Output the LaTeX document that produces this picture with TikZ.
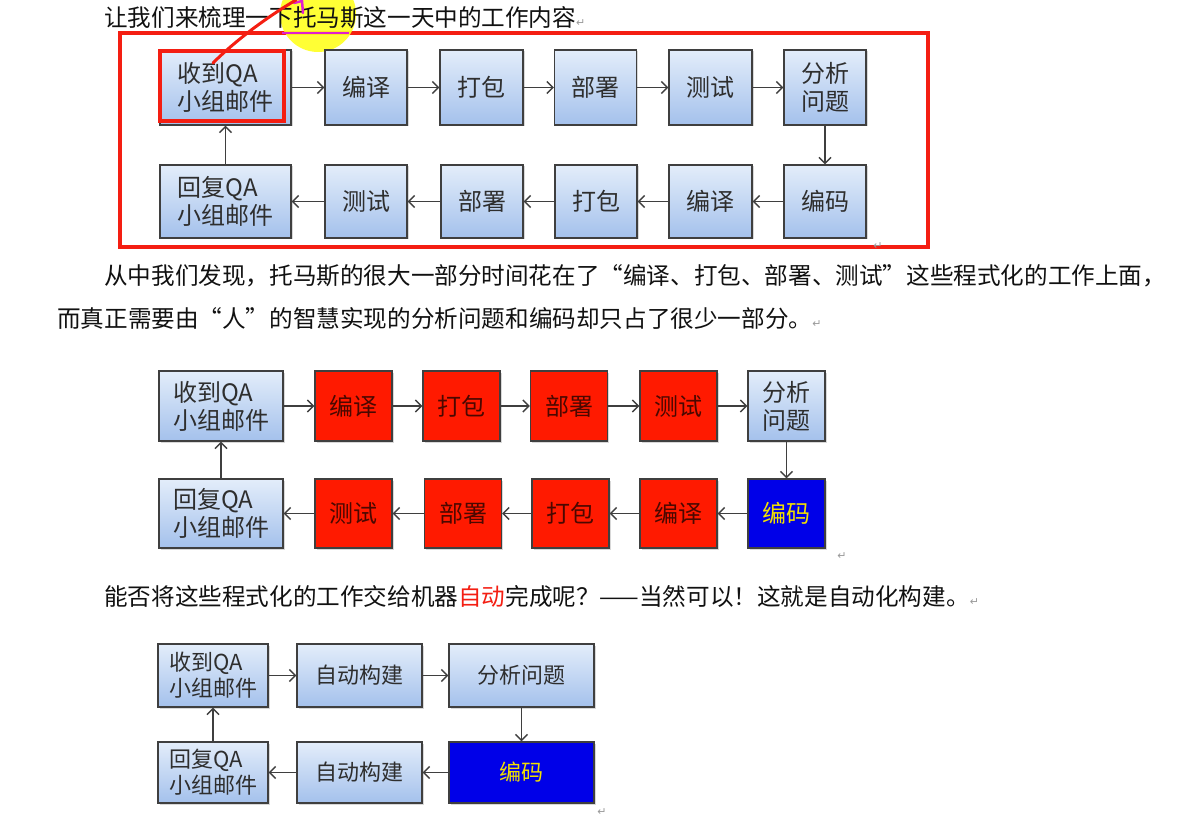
\documentclass[tikz,border=0pt]{standalone}
\usepackage{fontspec}
\usetikzlibrary{arrows.meta,shadows}
\newfontfamily\cjk{Noto Sans CJK SC}
\newfontfamily\dejavu{DejaVu Sans}
\definecolor{boxtop}{HTML}{E3EDFA}
\definecolor{boxbot}{HTML}{A4C1EC}
\definecolor{edge}{HTML}{3F3F3F}
\definecolor{boxtxt}{HTML}{2E2E2E}
\definecolor{hired}{HTML}{FF1A00}
\definecolor{hitxt}{HTML}{4A0800}
\definecolor{codeblue}{HTML}{0000E8}
\definecolor{codetxt}{HTML}{F2E000}
\definecolor{annored}{HTML}{F41E12}
\definecolor{annopink}{HTML}{E020D0}
\definecolor{hlyellow}{HTML}{FFFF20}
\definecolor{retgray}{HTML}{9A9A9A}
\definecolor{bodytxt}{HTML}{111111}
\newcommand{\retmark}{{\dejavu\fontsize{11}{11}\selectfont\color{retgray}↵}}
\begin{document}
\begin{tikzpicture}[x=1pt,y=-1pt,
  sz/.style 2 args={minimum width=#1pt,minimum height=#2pt},
  box/.style={draw=edge,line width=1.2pt,top color=boxtop,bottom color=boxbot,text=boxtxt,inner sep=0pt,align=left,
    font=\cjk\fontsize{24}{28}\selectfont,
    drop shadow={shadow xshift=1.5pt,shadow yshift=-1.5pt,opacity=0.3}},
  smallbox/.style={box,font=\cjk\fontsize{22}{26}\selectfont},
  redbox/.style={draw=edge,line width=1.2pt,fill=hired,text=hitxt,inner sep=0pt,
    font=\cjk\fontsize{24}{28}\selectfont,
    drop shadow={shadow xshift=1.5pt,shadow yshift=-1.5pt,opacity=0.3}},
  bluebox/.style={draw=edge,line width=1.2pt,fill=codeblue,text=codetxt,inner sep=0pt,
    font=\cjk\fontsize{24}{28}\selectfont,
    drop shadow={shadow xshift=1.5pt,shadow yshift=-1.5pt,opacity=0.3}},
  flow/.style={draw=edge,line width=1.5pt,-{Straight Barb[length=6pt,width=12pt]}},
  txt/.style={inner sep=0pt,text=bodytxt,font=\cjk\fontsize{23.6}{28}\selectfont},
  ret/.style={inner sep=0pt,font=\dejavu\fontsize{11}{11}\selectfont,text=retgray},
  annobox/.style={draw=annored,line width=4pt}
]
\useasboundingbox (0,0) rectangle (1181,826);
\fill[white] (0,0) rectangle (1181,826);

% ---------- annotation frame and highlight ----------
\draw[annobox] (120,33) rectangle (928,247);
\fill[hlyellow,opacity=0.9] (318,14) circle[radius=38];

% ---------- texts ----------
\node[txt,anchor=base west] (h1) at (104,27) {让我们来梳理一下托马斯这一天中的工作内容\retmark};
\node[txt,anchor=base west] (p1) at (104,285) {从中我们发现，托马斯的很大一部分时间花在了“编译、打包、部署、测试”这些程式化的工作上面，};
\node[txt,anchor=base west] (p2) at (57,328) {而真正需要由“人”的智慧实现的分析问题和编码却只占了很少一部分。\retmark};
\node[txt,anchor=base west] (p3) at (104,605) {能否将这些程式化的工作交给机器\textcolor{annored}{自动}完成呢？——当然可以！这就是自动化构建。\retmark};

% ---------- diagram 1 ----------
\node[box,sz={131}{75}] (a1) at (225.5,87.5) {收到QA\\小组邮件};
\node[box,sz={82}{75}] (a2) at (366,87.5) {编译};
\node[box,sz={83}{75}] (a3) at (481.5,87.5) {打包};
\node[box,sz={82}{75}] (a4) at (595.5,87.5) {部署};
\node[box,sz={83}{75}] (a5) at (710.5,87.5) {测试};
\node[box,sz={82}{75}] (a6) at (825,87.5) {分析\\问题};
\node[box,sz={131}{73}] (b1) at (225.5,201.5) {回复QA\\小组邮件};
\node[box,sz={82}{73}] (b2) at (366,201.5) {测试};
\node[box,sz={82}{73}] (b3) at (482,201.5) {部署};
\node[box,sz={82}{73}] (b4) at (596,201.5) {打包};
\node[box,sz={83}{73}] (b5) at (710.5,201.5) {编译};
\node[box,sz={82}{73}] (b6) at (825,201.5) {编码};
\draw[flow] (a1) -- (a2);
\draw[flow] (a2) -- (a3);
\draw[flow] (a3) -- (a4);
\draw[flow] (a4) -- (a5);
\draw[flow] (a5) -- (a6);
\draw[flow] (a6) -- (b6);
\draw[flow] (b6) -- (b5);
\draw[flow] (b5) -- (b4);
\draw[flow] (b4) -- (b3);
\draw[flow] (b3) -- (b2);
\draw[flow] (b2) -- (b1);
\draw[flow] (b1) -- (a1);
\node[ret] (r1) at (878,246) {↵};

% ---------- diagram 2 ----------
\node[box,sz={124}{70}] (c1) at (221,406) {收到QA\\小组邮件};
\node[redbox,sz={77}{70}] (c2) at (353.5,406) {编译};
\node[redbox,sz={77}{70}] (c3) at (461.5,406) {打包};
\node[redbox,sz={77}{70}] (c4) at (569,406) {部署};
\node[redbox,sz={77}{70}] (c5) at (678.5,406) {测试};
\node[box,sz={77}{70}] (c6) at (786.5,406) {分析\\问题};
\node[box,sz={124}{69}] (d1) at (221,513.5) {回复QA\\小组邮件};
\node[redbox,sz={77}{69}] (d2) at (353.5,513.5) {测试};
\node[redbox,sz={77}{69}] (d3) at (463,513.5) {部署};
\node[redbox,sz={77}{69}] (d4) at (570.5,513.5) {打包};
\node[redbox,sz={77}{69}] (d5) at (678.5,513.5) {编译};
\node[bluebox,sz={77}{69}] (d6) at (786.5,513.5) {编码};
\draw[flow] (c1) -- (c2);
\draw[flow] (c2) -- (c3);
\draw[flow] (c3) -- (c4);
\draw[flow] (c4) -- (c5);
\draw[flow] (c5) -- (c6);
\draw[flow] (c6) -- (d6);
\draw[flow] (d6) -- (d5);
\draw[flow] (d5) -- (d4);
\draw[flow] (d4) -- (d3);
\draw[flow] (d3) -- (d2);
\draw[flow] (d2) -- (d1);
\draw[flow] (d1) -- (c1);
\node[ret] (r2) at (842,556) {↵};

% ---------- diagram 3 ----------
\node[smallbox,sz={110}{63}] (e1) at (213,675.5) {收到QA\\小组邮件};
\node[smallbox,sz={125}{63}] (e2) at (359.5,675.5) {自动构建};
\node[smallbox,sz={145}{63}] (e3) at (521.5,675.5) {分析问题};
\node[smallbox,sz={110}{61}] (f1) at (213,772.5) {回复QA\\小组邮件};
\node[smallbox,sz={125}{61}] (f2) at (359.5,772.5) {自动构建};
\node[bluebox,sz={145}{61},font=\cjk\fontsize{22}{26}\selectfont] (f3) at (521.5,772.5) {编码};
\draw[flow] (e1) -- (e2);
\draw[flow] (e2) -- (e3);
\draw[flow] (e3) -- (f3);
\draw[flow] (f3) -- (f2);
\draw[flow] (f2) -- (f1);
\draw[flow] (f1) -- (e1);
\node[ret] (r3) at (602,812) {↵};

% ---------- annotations on top ----------
\draw[annobox] (160,51) rectangle (284,121);
\draw[annopink,line width=2pt] (282,33) -- (349,33);
\draw[annopink,line width=2.5pt,line cap=round] (294,3) -- (302,1) -- (303,13);
\draw[annored,line width=3pt,line cap=round] (213,63) .. controls (232,44) and (262,20) .. (296,0);
\end{tikzpicture}
\end{document}
